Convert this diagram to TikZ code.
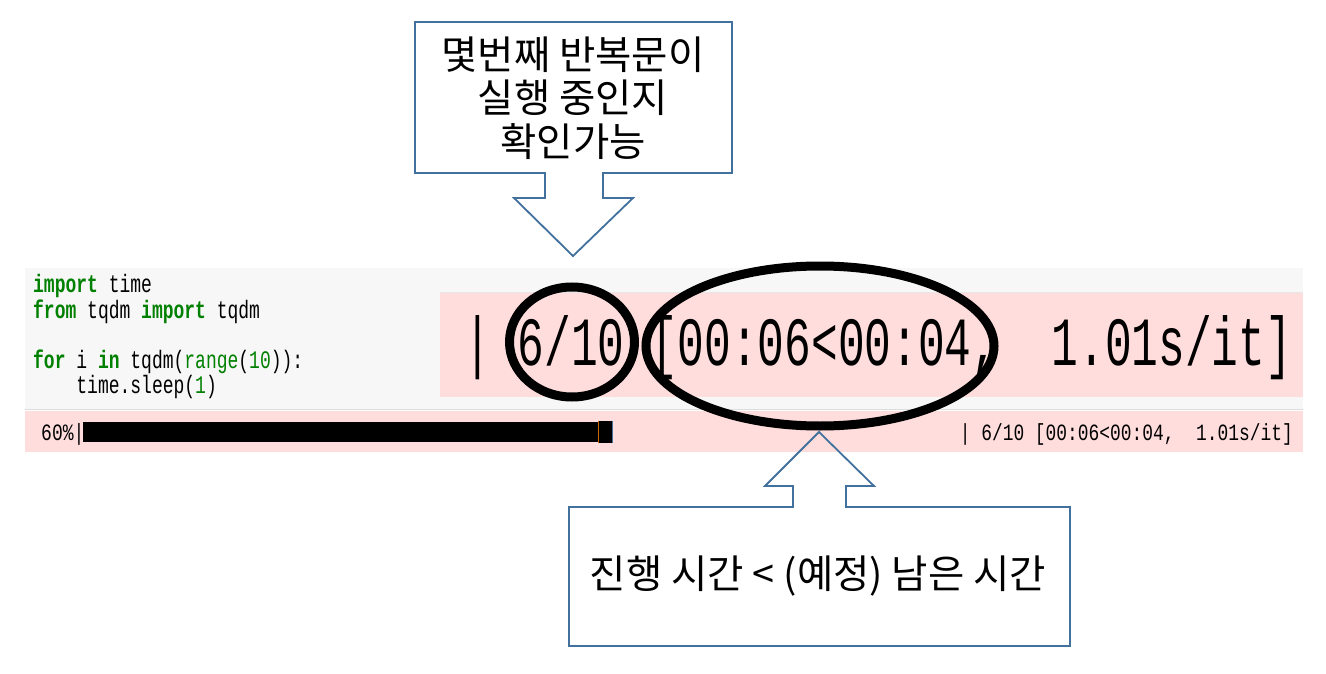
\documentclass[tikz,border=0pt]{standalone}
\usepackage{fontspec}
\usetikzlibrary{shapes.geometric}
\newfontfamily\krfont{Noto Sans CJK KR}
\newfontfamily\codefont{Liberation Mono}
\definecolor{pinkbg}{HTML}{FFDDDD}
\definecolor{cellbg}{HTML}{F7F7F7}
\definecolor{sepline}{HTML}{DDDDDD}
\definecolor{calloutline}{HTML}{41719C}
\definecolor{kwgreen}{HTML}{008000}
\newcommand{\kwd}[1]{\textbf{\color{kwgreen}#1}}
\newcommand{\grn}[1]{{\color{kwgreen}#1}}
\newcommand{\codeline}[1]{\scalebox{1}[1.4]{\fontsize{18}{18}\selectfont\codefont #1}}
\frenchspacing
\tikzset{
  codetxt/.style={anchor=base west, inner sep=0pt},
  callout/.style={draw=calloutline, line width=1.8pt, line join=miter},
  calloutText/.style={font=\krfont\fontsize{39.5}{43.5}\selectfont, align=center, inner sep=0pt},
  ring/.style={draw=black, ellipse, line width=9pt, inner sep=0pt},
}
\begin{document}
\begin{tikzpicture}[x=1pt, y=-1pt]
\useasboundingbox (0,0) rectangle (1326,674);
\fill[white] (0,0) rectangle (1326,674);
% code cell background
\fill[cellbg] (25,268) rectangle (1303,409);
\draw[sepline, line width=1.2pt] (25,409.5) -- (1303,409.5);
% output bar
\fill[pinkbg] (25,411) rectangle (1303,452);
% enlarged output
\fill[pinkbg] (440,292) rectangle (1303,397);
\draw[sepline!70, line width=1pt] (440,292.5) -- (1303,292.5);
% code text
\node[codetxt] (l1) at (33,292) {\codeline{\kwd{import} time}};
\node[codetxt] (l2) at (33,318) {\codeline{\kwd{from} tqdm \kwd{import} tqdm}};
\node[codetxt] (l4) at (33,368) {\codeline{\kwd{for} i \kwd{in} tqdm(\grn{range}(\grn{10})):}};
\node[codetxt] (l5) at (76.2,393) {\codeline{time.sleep(\grn{1})}};
% progress bar
\node[codetxt] (pct) at (41,440) {\scalebox{1}[1.3]{\fontsize{18}{18}\selectfont\codefont 60\%|}};
\fill[black] (83,422) rectangle (598,442);
\fill[black] (598,421) rectangle (613,443);
\draw[orange!80!black, line width=1.3pt] (598.6,421) -- (598.6,443);
\draw[calloutline, line width=1.3pt] (612.4,421) -- (612.4,443);
\node[codetxt] (small) at (959.6,440) {\scalebox{1}[1.3]{\fontsize{17.9}{18}\selectfont\codefont | 6/10 [00:06<00:04,\ \ 1.01s/it]}};
% enlarged text
\node[codetxt] (big) at (464,365) {\scalebox{1}[1.55]{\fontsize{44.5}{44.5}\selectfont\codefont | 6/10 [00:06<00:04,\ \ 1.01s/it]}};
% rings
\node[ring, minimum width=125pt, minimum height=110pt] (ringA) at (572,342) {};
\node[ring, minimum width=348pt, minimum height=160pt] (ringB) at (820,346) {};
% top callout
\draw[callout, fill=white] (415,22) -- (732,22) -- (732,173) -- (603,173) -- (603,198) -- (633,198) -- (573,256) -- (514,198) -- (545,198) -- (545,173) -- (415,173) -- cycle;
\node[calloutText] (t1) at (573,98) {몇번째 반복문이\\실행 중인지\\확인가능};
% bottom callout
\draw[callout] (569,507) -- (793,507) -- (793,486) -- (765,486) -- (819,432) -- (874,486) -- (846,486) -- (846,507) -- (1070,507) -- (1070,646) -- (569,646) -- cycle;
\node[calloutText] (t2) at (818,576) {진행 시간 < (예정) 남은 시간};
\end{tikzpicture}
\end{document}
